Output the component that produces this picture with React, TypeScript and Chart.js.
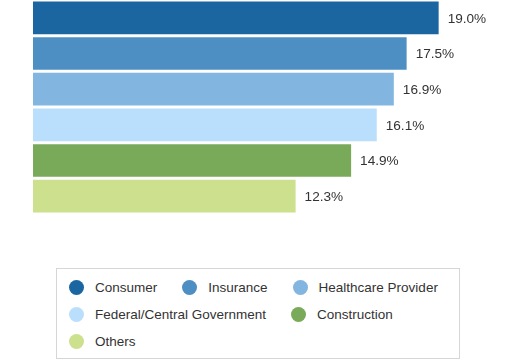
import React, { useEffect, useRef } from "react";
import { Chart, registerables } from "chart.js";

Chart.register(...registerables);

const categories = [
  "Consumer",
  "Insurance",
  "Healthcare Provider",
  "Federal/Central Government",
  "Construction",
  "Others",
];
const values = [19.0, 17.5, 16.9, 16.1, 14.9, 12.3];
const colors = ["#1b66a1", "#4e8fc3", "#82b5df", "#badffd", "#78aa5a", "#cce08e"];
const axisMax = 20;

const FONT = "'Liberation Sans', Arial, sans-serif";

const valueLabels = {
  id: "valueLabels",
  afterDatasetsDraw(chart: any) {
    const ctx = chart.ctx;
    const meta = chart.getDatasetMeta(0);
    ctx.save();
    ctx.font = `13.6px ${FONT}`;
    ctx.fillStyle = "#333333";
    ctx.textAlign = "left";
    ctx.textBaseline = "middle";
    meta.data.forEach((el: any, i: number) => {
      const v = chart.data.datasets[0].data[i] as number;
      ctx.fillText(v.toFixed(1) + "%", el.x + 9, el.y + 1);
    });
    ctx.restore();
  },
};

export default function App() {
  const ref = useRef<HTMLCanvasElement | null>(null);

  useEffect(() => {
    document.body.style.margin = "0";
    if (!ref.current) return;
    const chart = new Chart(ref.current, {
      type: "bar",
      data: {
        labels: categories,
        datasets: [
          {
            data: values,
            backgroundColor: colors,
            borderWidth: 0,
            barPercentage: 0.915,
            categoryPercentage: 1,
          },
        ],
      },
      options: {
        indexAxis: "y",
        animation: false,
        responsive: false,
        layout: { padding: { left: 33, right: 64, top: 0, bottom: 1 } },
        scales: {
          x: { display: false, min: 0, max: axisMax },
          y: { display: false },
        },
        plugins: {
          legend: { display: false },
          tooltip: { enabled: false },
        },
      },
      plugins: [valueLabels],
    });
    return () => chart.destroy();
  }, []);

  return (
    <div style={{ position: "absolute", left: 0, top: 0, width: 524, height: 363, background: "#fff" }}>
      <canvas ref={ref} width={524} height={215} style={{ position: "absolute", left: 0, top: 0 }} />
      <div
        style={{
          position: "absolute",
          left: 56,
          top: 268,
          width: 404,
          height: 91,
          boxSizing: "border-box",
          border: "1px solid #d6d6d6",
          padding: "11px 2px 0 12px",
          display: "flex",
          flexWrap: "wrap",
          alignContent: "flex-start",
          columnGap: 25,
          rowGap: 12,
          fontFamily: FONT,
          fontSize: 13.5,
          color: "#333",
        }}
      >
        {categories.map((c, i) => (
          <div key={c} style={{ display: "flex", alignItems: "center", height: 15 }}>
            <span
              style={{
                display: "inline-block",
                width: 15,
                height: 15,
                borderRadius: "50%",
                background: colors[i],
                marginRight: 11,
              }}
            />
            <span style={{ whiteSpace: "nowrap", lineHeight: "15px" }}>{c}</span>
          </div>
        ))}
      </div>
    </div>
  );
}
